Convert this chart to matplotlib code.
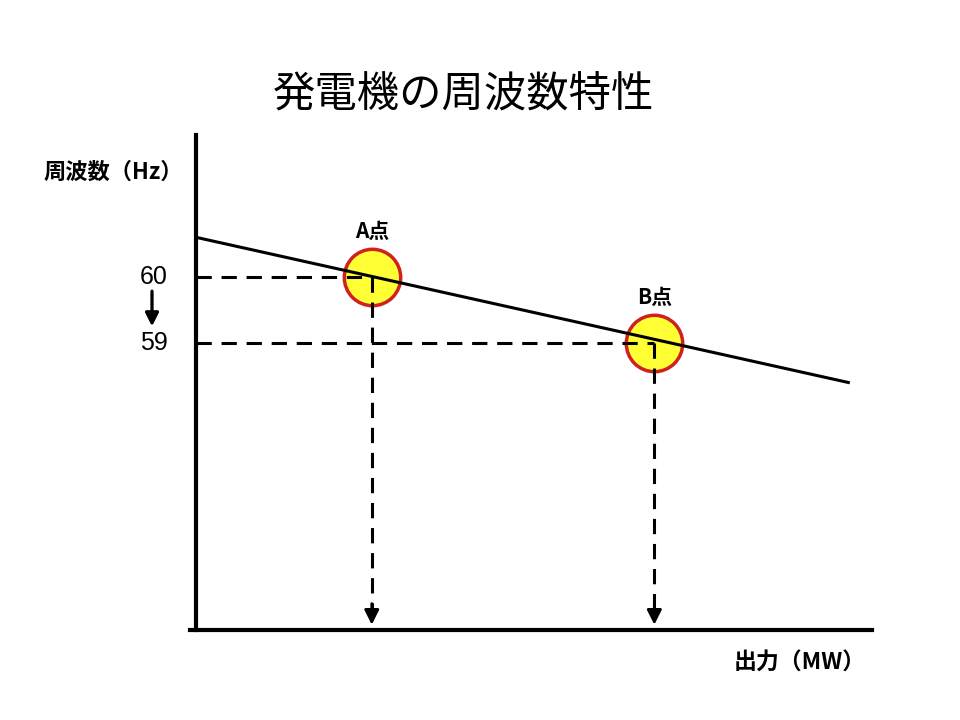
import matplotlib.pyplot as plt

plt.rcParams['font.family'] = ['Noto Sans CJK JP', 'DejaVu Sans']

# 図のテキスト
title = "発電機の周波数特性"
y_label = "周波数（Hz）"
x_label = "出力（MW）"

# 特性直線（出力, 周波数）
line_x = [0, 96.5]
line_freq = [60.6, 58.4]

# 運転点
point_names = ["A点", "B点"]
point_x = [26.0, 67.8]
point_freq = [60, 59]
freq_labels = ["60", "59"]

Y_MIN, Y_MAX = 54.65, 62.15

fig = plt.figure(figsize=(9.6, 7.2), dpi=100)
ax = fig.add_axes([196 / 960, 90 / 720, 676 / 960, 495 / 720])
ax.set_xlim(0, 100)
ax.set_ylim(Y_MIN, Y_MAX)

for side in ["top", "right"]:
    ax.spines[side].set_visible(False)
ax.spines["left"].set_linewidth(3)
ax.spines["bottom"].set_linewidth(3)
ax.spines["bottom"].set_bounds(-0.9, 100)
ax.set_xticks([])
ax.set_yticks([])

# 特性直線
ax.plot(line_x, line_freq, color="black", lw=2.2, zorder=4, clip_on=False)

for name, x, f, lab in zip(point_names, point_x, point_freq, freq_labels):
    # 運転点の円
    ax.scatter([x], [f], s=1650, color="#ffff33", edgecolor="#d02020",
               linewidth=2.5, zorder=2)
    # 破線
    ax.plot([0, x], [f, f], color="black", lw=2.2, ls=(0, (5, 3.2)), zorder=3)
    ax.plot([x, x], [f, Y_MIN + 0.25], color="black", lw=2.2,
            ls=(0, (5, 3.2)), zorder=3)
    ax.annotate("", xy=(x, Y_MIN + 0.08), xytext=(x, Y_MIN + 0.4),
                arrowprops=dict(arrowstyle="-|>", color="black", lw=2,
                                mutation_scale=22, shrinkA=0, shrinkB=0))
    ax.text(x, f + 0.69, name, ha="center", va="center", fontsize=15,
            fontweight="bold")
    ax.text(-0.063, f, lab, transform=ax.get_yaxis_transform(),
            ha="center", va="center", fontsize=18, family="Liberation Sans")

# 60 → 59 の矢印
fig.add_artist(plt.annotate("", xy=(152 / 960, 1 - 326 / 720),
                            xytext=(152 / 960, 1 - 291 / 720),
                            xycoords="figure fraction",
                            arrowprops=dict(arrowstyle="-|>", color="black",
                                            lw=2, mutation_scale=20,
                                            shrinkA=0, shrinkB=0)))

fig.text(463 / 960, 1 - 95 / 720, title, ha="center", va="center", fontsize=30.5)
fig.text(113 / 960, 1 - 172 / 720, y_label, ha="center", va="center",
         fontsize=16, fontweight="bold")
fig.text(800 / 960, 1 - 663 / 720, x_label, ha="center", va="center",
         fontsize=16.5, fontweight="bold")

fig.savefig("out.png", dpi=100)
